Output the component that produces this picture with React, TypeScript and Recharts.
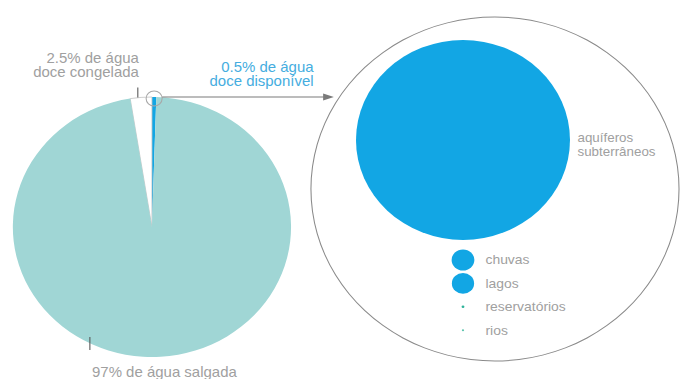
import { PieChart, Pie, Cell, ScatterChart, Scatter, XAxis, YAxis, ZAxis } from 'recharts'

// distribuição da água do planeta (%)
const aguaNomes = ['0.5% de água doce disponível', '2.5% de água doce congelada', '97% de água salgada']
const aguaValores = [0.5, 2.5, 97]
const aguaCores = ['#12a6e4', '#ffffff', '#a0d6d5']

// água doce disponível por reservatório (% da parte disponível)
const reservaNomes = ['aquíferos subterrâneos', 'chuvas', 'lagos', 'reservatórios', 'rios']
const reservaValores = [97.5, 1.1, 1.05, 0.017, 0.011]
const reservaCores = ['#12a6e4', '#12a6e4', '#12a6e4', '#2fb39a', '#5cc4ad']

const total = [{ name: 'total', value: 1 }]

const W = 636
const H = 379
const SX = 1.07
const FONT = 'Liberation Sans, Arial, Helvetica, sans-serif'
const CINZA = '#a0a0a0'
const AZUL = '#45ade0'

const somaAgua = aguaValores.reduce((a, b) => a + b, 0)
const inicio = 90 - (aguaValores[0] / somaAgua) * 360
const aguaData = aguaNomes.map((name, i) => ({ name, value: aguaValores[i] }))

const bolhas = reservaNomes.map((nome, i) => ({
  nome,
  valor: reservaValores[i],
  cor: reservaCores[i],
  x: 0,
  y: i === 0 ? -5.13 : i - 1,
}))

const RAD = Math.PI / 180

function AguaLabel(props: any) {
  const { cx, cy, midAngle, outerRadius, index } = props
  const px = cx + outerRadius * Math.cos(-midAngle * RAD)
  const py = cy + outerRadius * Math.sin(-midAngle * RAD)
  const linhas = aguaNomes[index]
  if (index === 0) {
    const [a, b] = [linhas.slice(0, 12), linhas.slice(13)]
    const fim = 312
    return (
      <g>
        <circle cx={px} cy={py + 1.5} r={7.5} fill="none" stroke="#a8a8a8" strokeWidth={1} />
        <line x1={px + 7.5} y1={py} x2={fim - 8} y2={py} stroke="#7a7a7a" strokeWidth={1} />
        <polygon points={`${fim},${py} ${fim - 10},${py - 3.5} ${fim - 10},${py + 3.5}`} fill="#7a7a7a" />
        <text x={px + 149} y={py - 25} textAnchor="end" fontSize={14} fontFamily={FONT} fill={AZUL}>{a}</text>
        <text x={px + 149} y={py - 11} textAnchor="end" fontSize={14} fontFamily={FONT} fill={AZUL}>{b}</text>
      </g>
    )
  }
  if (index === 1) {
    const [a, b] = [linhas.slice(0, 12), linhas.slice(13)]
    const tx = px - 3
    return (
      <g>
        <line x1={tx} y1={py - 10} x2={tx} y2={py} stroke="#555" strokeWidth={1} />
        <text x={tx + 1} y={py - 34} textAnchor="end" fontSize={14} fontFamily={FONT} fill={CINZA}>{a}</text>
        <text x={tx + 1} y={py - 20} textAnchor="end" fontSize={14} fontFamily={FONT} fill={CINZA}>{b}</text>
      </g>
    )
  }
  return (
    <g>
      <line x1={cx - 58} y1={cy + 110} x2={cx - 58} y2={cy + 123} stroke="#555" strokeWidth={1} />
      <text x={cx - 56} y={cy + 150} fontSize={14} fontFamily={FONT} fill={CINZA}>{linhas}</text>
    </g>
  )
}

function Bolha(props: any) {
  const { cx, cy, width, payload } = props
  const r = width / 2
  if (payload.y < 0) {
    const [a, b] = payload.nome.split(' ')
    return (
      <g>
        <circle cx={cx} cy={cy} r={r} fill={payload.cor} />
        <text x={cx + r + 7} y={cy + 2} fontSize={12.5} fontFamily={FONT} fill={CINZA}>{a}</text>
        <text x={cx + r + 7} y={cy + 16} fontSize={12.5} fontFamily={FONT} fill={CINZA}>{b}</text>
      </g>
    )
  }
  return (
    <g>
      <circle cx={cx} cy={cy} r={Math.max(r, 1)} fill={payload.cor} />
      <text x={cx + 21} y={cy + 4.5} fontSize={13} fontFamily={FONT} fill={CINZA}>{payload.nome}</text>
    </g>
  )
}

export default function App() {
  return (
    <div
      style={{
        position: 'absolute',
        left: 0,
        top: 0,
        width: W,
        height: H,
        background: '#fff',
        transform: `scaleX(${SX})`,
        transformOrigin: '0 0',
      }}
    >
      <div style={{ position: 'absolute', left: 0, top: 0 }}>
        <PieChart width={W} height={H} margin={{ top: 0, right: 0, bottom: 0, left: 0 }}>
          <Pie
            data={total}
            dataKey="value"
            cx={462.6}
            cy={189}
            innerRadius={171.5}
            outerRadius={172.5}
            startAngle={90}
            endAngle={450}
            fill="#8a8a8a"
            stroke="none"
            isAnimationActive={false}
          />
          <Pie
            data={aguaData}
            dataKey="value"
            cx={142}
            cy={227}
            outerRadius={130}
            startAngle={inicio}
            endAngle={inicio + 360}
            label={AguaLabel}
            labelLine={false}
            isAnimationActive={false}
          >
            {aguaData.map((d, i) => (
              <Cell
                key={d.name}
                fill={aguaCores[i]}
                stroke={i === 1 ? '#c4c4c4' : 'none'}
                strokeWidth={i === 1 ? 0.8 : 0}
              />
            ))}
          </Pie>
        </PieChart>
      </div>
      <div style={{ position: 'absolute', left: 0, top: 0 }}>
        <ScatterChart width={W} height={H} margin={{ top: 119.6, bottom: 25.4, left: 382.7, right: W - 482.7 }}>
          <XAxis type="number" dataKey="x" domain={[-1, 1]} hide />
          <YAxis type="number" dataKey="y" domain={[-6, 4]} reversed hide />
          <ZAxis type="number" dataKey="valor" domain={[0, 'dataMax']} range={[0, Math.PI * 100 * 100]} />
          <Scatter data={bolhas} shape={Bolha} isAnimationActive={false} />
        </ScatterChart>
      </div>
    </div>
  )
}
